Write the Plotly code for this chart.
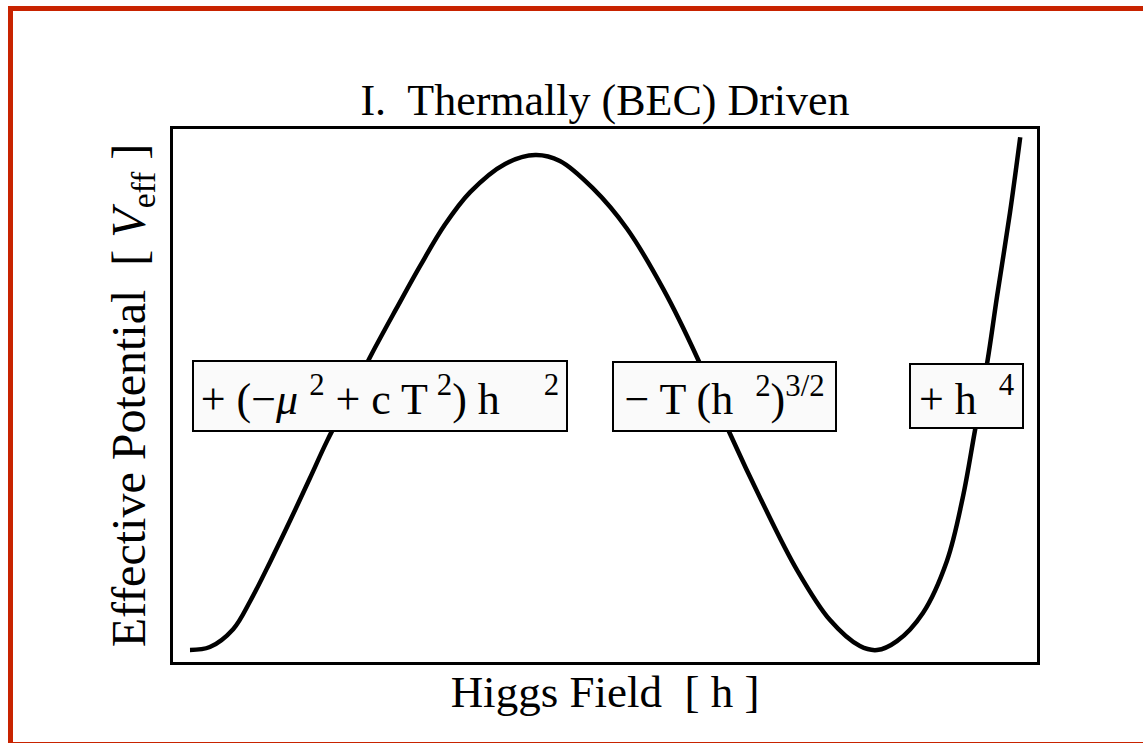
import plotly.graph_objects as go

# Higgs field values (arbitrary units)
h_vals = [0.000, 0.029, 0.063, 0.088, 0.117, 0.146, 0.175, 0.200, 0.234, 0.266,
          0.301, 0.336, 0.372, 0.409, 0.460, 0.504, 0.540, 0.588, 0.638, 0.691,
          0.740, 0.788, 0.836, 0.886, 0.934, 0.978, 1.003, 1.032, 1.070, 1.105,
          1.128, 1.146, 1.164, 1.178, 1.197, 1.212]
# Effective potential (normalised so that the barrier top is 1)
v_vals = [0.000, 0.006, 0.042, 0.099, 0.178, 0.261, 0.347, 0.422, 0.513, 0.600,
          0.689, 0.776, 0.859, 0.925, 0.982, 1.000, 0.988, 0.933, 0.851, 0.729,
          0.592, 0.438, 0.297, 0.162, 0.061, 0.008, 0.000, 0.018, 0.075, 0.180,
          0.307, 0.444, 0.582, 0.713, 0.883, 1.036]

title_text = "I.  Thermally (BEC) Driven"
x_title = "Higgs Field  [ h ]"
y_title = "Effective Potential  [ <i>V</i><sub>eff</sub> ]"
term_labels = ["+ (−<i>μ</i> <sup>2</sup> + c T\u2009<sup>2</sup>) h\u2002\u2002<sup>2</sup>",
               "− T (h\u2002<sup>2</sup>)<sup>3/2</sup>",
               "+ h\u2002<sup>4</sup>"]
term_x = [0.277, 0.781, 1.134]
term_y = [0.513, 0.513, 0.513]
term_w = [372, 221, 111]
term_h = [68, 67, 62]

FONT = "Liberation Serif"

fig = go.Figure()
fig.add_trace(go.Scatter(x=h_vals, y=v_vals, mode="lines",
                         line=dict(color="black", width=4.5, shape="spline", smoothing=1.0),
                         hoverinfo="skip", showlegend=False))

for lab, xx, yy, w, hh in zip(term_labels, term_x, term_y, term_w, term_h):
    fig.add_annotation(x=xx, y=yy, xref="x", yref="y", text=lab, showarrow=False,
                       font=dict(family=FONT, size=44, color="black"),
                       bgcolor="#fafafa", bordercolor="black", borderwidth=2,
                       borderpad=0, width=w, height=hh, align="center", valign="middle")

# red outer frame (partly outside the window)
fig.add_shape(type="rect", xref="paper", yref="paper",
              x0=-0.18808, x1=1.1308, y0=-0.15478, y1=1.2261,
              line=dict(color="#c82300", width=5), fillcolor="rgba(0,0,0,0)", layer="above")

axis_common = dict(showgrid=False, zeroline=False, showticklabels=False, ticks="",
                   showline=True, linecolor="black", linewidth=3, mirror=True)

fig.update_layout(
    width=1143, height=743,
    margin=dict(l=173, r=106, t=129, b=81),
    paper_bgcolor="white", plot_bgcolor="white",
    title=dict(text=title_text, x=0.5, xref="paper", xanchor="center",
               y=1 - 100 / 743, yanchor="middle",
               font=dict(family=FONT, size=44, color="black")),
    xaxis=dict(range=[-0.0248, 1.2365], title=dict(text=x_title, standoff=12,
               font=dict(family=FONT, size=45, color="black")), **axis_common),
    yaxis=dict(range=[-0.0242, 1.0525], title=dict(text=y_title, standoff=10,
               font=dict(family=FONT, size=48, color="black")), **axis_common),
)

fig.write_html("out.html", config={"displayModeBar": False},
               post_script="document.body.style.margin='0';")
